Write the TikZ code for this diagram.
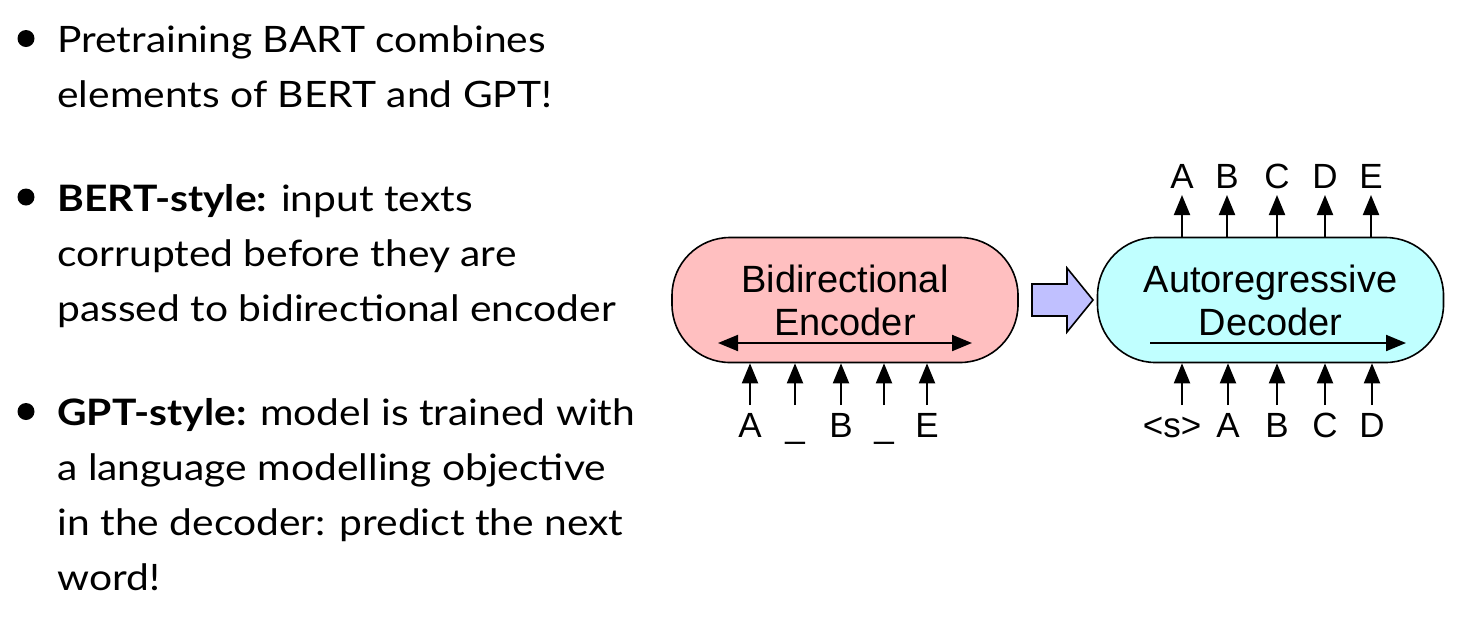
\documentclass[tikz,border=0pt]{standalone}
\usepackage{fontspec}
\setmainfont{Lato}[FakeStretch=1.12]
\newfontfamily\diag{Liberation Sans}
\usetikzlibrary{arrows.meta}
\definecolor{encpink}{HTML}{FFBFC0}
\definecolor{deccyan}{HTML}{C0FFFF}
\definecolor{lav}{HTML}{C0C0FF}
\begin{document}
\begin{tikzpicture}[x=0.5pt,y=-0.5pt,
  txt/.style={anchor=base west,inner sep=0pt,font=\fontsize{18.2}{20}\selectfont},
  bul/.style={circle,fill=black,inner sep=0pt,minimum size=8.5pt},
  box/.style={draw=black,line width=0.8pt,rounded corners=29pt,minimum width=173pt,minimum height=62.5pt,align=center,font=\diag\fontsize{19}{21.5}\selectfont},
  lab/.style={anchor=base,inner sep=0pt,font=\diag\fontsize{17.5}{20}\selectfont},
  arr/.style={line width=1pt,-{Triangle[length=10pt,width=8pt]}},
  darr/.style={line width=1pt,{Triangle[length=10pt,width=8pt]}-{Triangle[length=10pt,width=8pt]}}
]
\useasboundingbox (0,0) rectangle (1461,628);
% left text
\node[bul] (b1) at (26,38.5) {};
\node[txt] (t1) at (57,52) {Pretraining BART combines};
\node[txt] (t2) at (57,107) {elements of BERT and GPT!};
\node[bul] (b2) at (26,197) {};
\node[txt] (t3) at (57,211) {\textbf{BERT-style:} input texts};
\node[txt] (t4) at (57,266) {corrupted before they are};
\node[txt] (t5) at (57,321) {passed to bidirectional encoder};
\node[bul] (b3) at (26,411.5) {};
\node[txt] (t6) at (57,425) {\textbf{GPT-style:} model is trained with};
\node[txt] (t7) at (57,480) {a language modelling objective};
\node[txt] (t8) at (57,535) {in the decoder: predict the next};
\node[txt] (t9) at (57,590) {word!};
% boxes
\node[box,fill=encpink] (enc) at (845,300) {Bidirectional\\Encoder};
\node[box,fill=deccyan] (dec) at (1270.5,300) {Autoregressive\\Decoder};
\coordinate (e1) at (718,343);
\coordinate (e2) at (972,343);
\draw[darr] (e1) -- (e2);
\coordinate (d1) at (1150,343);
\coordinate (d2) at (1406,343);
\draw[arr] (d1) -- (d2);
% big arrow
\draw[line width=0.8pt,fill=lav] (1032,284) -- (1067,284) -- (1067,268) -- (1093,300) -- (1067,332) -- (1067,316) -- (1032,316) -- cycle;
% encoder inputs
\node[lab] (i1) at (750,437) {A};
\node[lab] (i2) at (795,437) {\_};
\node[lab] (i3) at (841,437) {B};
\node[lab] (i4) at (884,437) {\_};
\node[lab] (i5) at (927,437) {E};
\foreach \n in {i1,i2,i3,i4,i5}
  \draw[arr] ([yshift=16pt]\n.base) -- (\n |- enc.south);
% decoder inputs
\node[lab] (s0) at (1172,437) {\textless s\textgreater};
\node[lab] (s1) at (1228,437) {A};
\node[lab] (s2) at (1277,437) {B};
\node[lab] (s3) at (1325,437) {C};
\node[lab] (s4) at (1372,437) {D};
\draw[arr] ([xshift=5pt,yshift=16pt]s0.base) -- ([xshift=5pt]s0 |- dec.south);
\foreach \n in {s1,s2,s3,s4}
  \draw[arr] ([yshift=16pt]\n.base) -- (\n |- dec.south);
% decoder outputs
\node[lab] (o1) at (1182,188) {A};
\node[lab] (o2) at (1227,188) {B};
\node[lab] (o3) at (1277,188) {C};
\node[lab] (o4) at (1325,188) {D};
\node[lab] (o5) at (1371,188) {E};
\foreach \n in {o1,o2,o3,o4,o5}
  \draw[arr] (\n |- dec.north) -- ([yshift=-3.5pt]\n.base);
\end{tikzpicture}
\end{document}
